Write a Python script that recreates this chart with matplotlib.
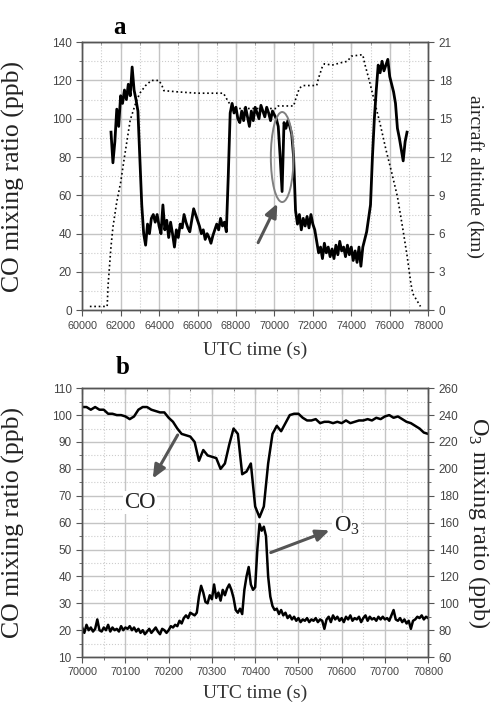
import numpy as np
import matplotlib
matplotlib.use('Agg')
import matplotlib.pyplot as plt
from matplotlib.patches import Ellipse
from matplotlib.ticker import MultipleLocator

plt.rcParams['font.family'] = ['Liberation Serif', 'DejaVu Serif']
plt.rcParams['mathtext.fontset'] = 'custom'
plt.rcParams['mathtext.rm'] = 'Liberation Serif'

# ---- panel a: CO (ppb) and aircraft altitude (km) over the whole flight
co_a_time = np.arange(61500, 76901, 100)
co_a = [93, 77, 88, 105, 96,
        112, 108, 115, 110, 118, 112, 127, 115, 110, 104,
        80, 55, 40, 34, 45, 40, 48, 50, 46, 50,
        44, 40, 55, 42, 47, 38, 46, 40, 33, 42,
        38, 45, 43, 50, 46, 43, 41, 47, 53, 50,
        47, 44, 40, 42, 37, 40, 38, 35, 39, 42,
        45, 42, 48, 44, 46, 41, 70, 103, 108, 103,
        106, 100, 98, 104, 99, 106, 101, 96, 104, 99,
        106, 103, 100, 107, 104, 101, 106, 103, 99, 104,
        102, 100, 96, 80, 62, 98, 95, 99, 96, 92,
        80, 52, 45, 50, 42, 48, 44, 49, 43, 50,
        45, 42, 36, 30, 33, 27, 35, 30, 33, 28,
        32, 27, 34, 29, 36, 31, 33, 28, 34, 29,
        33, 26, 31, 25, 33, 23, 33, 37, 41, 48,
        55, 80, 100, 115, 128, 124, 130, 125, 128, 131,
        122, 118, 114, 108, 95, 90, 84, 78, 88, 93]

alt_time = [60400, 61300, 61350, 61500, 61600, 61800, 62000, 62200, 62500, 62800,
            63000, 63300, 63600, 64000, 64150, 64250, 65000, 66000, 67350, 67500,
            67700, 68000, 70100, 70200, 71000, 71100, 71300, 71500, 72200, 72300,
            72500, 72600, 73000, 73500, 73800, 74000, 74500, 74600, 74700, 74900,
            75200, 75500, 75800, 76100, 76400, 76700, 76900, 77100, 77200, 77400,
            77600]
alt_km = [0.3, 0.3, 2.0, 5.0, 6.5, 8.5, 10.0, 12.0, 14.9, 16.3,
          17.0, 17.6, 18.0, 18.0, 17.6, 17.2, 17.1, 17.0, 17.0, 16.6,
          16.1, 15.8, 15.8, 16.0, 16.0, 16.5, 17.4, 17.6, 17.6, 18.2,
          19.1, 19.3, 19.2, 19.4, 19.5, 19.9, 20.0, 20.0, 19.3, 18.2,
          16.4, 14.6, 12.6, 10.8, 8.9, 6.2, 4.3, 2.1, 1.3, 0.8,
          0.3]

# ---- panel b: zoom on the dip, CO (ppb, left) and O3 (ppb, right)
co_b_time = np.arange(70000, 70801, 10)
co_b = [103, 103, 102, 103, 102, 102, 100.5, 100.5, 100, 100,
        99.5, 98.5, 99.5, 102, 103, 103, 102, 101.5, 101, 101,
        99, 97.5, 95, 93, 92.5, 92, 90, 83, 87, 85,
        84.5, 84, 80, 82, 89, 95, 93, 78, 79, 82,
        66, 62, 66, 82, 93, 96, 94, 97, 100, 100.5,
        100.5, 99, 98, 98, 98.5, 97, 97.5, 97.5, 97, 97.5,
        97, 98, 97, 97.5, 98, 98, 98.5, 98, 99, 98.5,
        99.5, 100, 99, 99.5, 98.5, 97.5, 97, 96, 95, 93.5,
        93]

o3_time = np.arange(70000, 70801, 5)
o3 = [82, 78, 84, 80, 82, 79, 81, 88, 80, 79,
      82, 80, 84, 79, 82, 80, 81, 79, 83, 80,
      82, 81, 83, 80, 82, 79, 81, 78, 80, 77,
      79, 81, 78, 80, 82, 79, 77, 81, 80, 78,
      80,
      83, 82, 84, 83, 87, 85, 89, 91, 89, 93,
      92, 91, 93, 105, 113, 108, 101, 100, 106, 103,
      114, 104, 108, 102, 110, 106, 111, 114, 110, 104,
      95, 93, 96, 92, 110, 120, 127, 114, 110, 112,
      140, 159, 154, 157, 150, 120, 105, 98, 95, 96,
      92, 95, 91, 93, 89, 91, 88, 90, 87, 89,
      86, 88, 87, 89, 86, 88, 87, 89, 86, 88,
      87, 81, 88, 90, 86, 91, 88, 90, 87, 89,
      86, 90, 88, 91, 87, 89, 88, 90, 86, 89,
      91, 87, 90, 88, 89, 87, 90, 88, 90, 88,
      89, 87, 91, 95, 88, 87, 89, 86, 88, 85,
      87, 81, 87, 88, 90, 89, 91, 88, 90, 89]

SPINE = '#555555'
TICKLAB = '#444444'
ARROW = '#555555'


def style(ax, ax2, xmaj, xmin, ymaj, ymin, y2maj, y2min):
    """ common look of both panels """
    ax.xaxis.set_major_locator(MultipleLocator(xmaj))
    ax.xaxis.set_minor_locator(MultipleLocator(xmin))
    ax.yaxis.set_major_locator(MultipleLocator(ymaj))
    ax.yaxis.set_minor_locator(MultipleLocator(ymin))
    ax2.yaxis.set_major_locator(MultipleLocator(y2maj))
    ax2.yaxis.set_minor_locator(MultipleLocator(y2min))
    ax.grid(which='major', color='#c4c4c4', lw=1.0, ls='-')
    ax.grid(which='minor', color='#cccccc', lw=0.8, ls=':')
    ax.set_axisbelow(True)
    for a in (ax, ax2):
        for s in a.spines.values():
            s.set_color(SPINE)
            s.set_linewidth(1.0)
        a.tick_params(which='both', direction='out', color=SPINE,
                      labelcolor=TICKLAB, labelfontfamily='Liberation Sans')
        a.tick_params(which='major', length=4)
        a.tick_params(which='minor', length=2)
    ax.tick_params(axis='x', labelsize=7.8)
    ax.tick_params(axis='y', labelsize=8.5)
    ax2.tick_params(axis='y', labelsize=8.5)
    top = ax.secondary_xaxis('top')
    top.xaxis.set_major_locator(MultipleLocator(xmaj))
    top.xaxis.set_minor_locator(MultipleLocator(xmin))
    top.tick_params(which='both', direction='in', labeltop=False, color=SPINE)
    top.tick_params(which='major', length=4)
    top.tick_params(which='minor', length=2)
    top.spines['top'].set_color(SPINE)


fig = plt.figure(figsize=(4.95, 7.02), dpi=100)

# panel a
ax = fig.add_axes([0.166, 0.558, 0.699, 0.382])
ax2 = ax.twinx()
ax2.plot(alt_time, alt_km, color='black', ls=':', lw=1.2)
ax.plot(co_a_time, co_a, color='black', lw=2.0, zorder=3)
ax.set_xlim(60000, 78000)
ax.set_ylim(0, 140)
ax2.set_ylim(0, 21)
style(ax, ax2, 2000, 1000, 20, 10, 3, 1.5)
ax.add_patch(Ellipse((70405, 80), 1180, 47, fill=False, ec='#808080', lw=1.4, zorder=4))
ax.annotate('', xy=(70215, 57), xytext=(69090, 34),
            arrowprops=dict(arrowstyle='-|>,head_length=0.8,head_width=0.35',
                            color=ARROW, lw=2.2), zorder=5)
ax.set_ylabel('CO mixing ratio (ppb)', fontsize=18.5, color='#222222')
ax.yaxis.set_label_coords(-0.165, 0.5)
ax2.set_ylabel('aircraft altitude (km)', fontsize=14, rotation=270, color='#222222')
ax2.yaxis.set_label_coords(1.16, 0.5)
fig.text(0.515, 1 - 350 / 702, 'UTC time (s)', ha='center', va='center',
         fontsize=14, color='#333333')
fig.text(120 / 495, 1 - 27 / 702, 'a', ha='center', va='center',
         fontsize=18, fontweight='bold')

# panel b
bx = fig.add_axes([0.166, 0.064, 0.699, 0.383])
bx2 = bx.twinx()
bx.plot(co_b_time, co_b, color='black', lw=1.8)
bx2.plot(o3_time, o3, color='black', lw=1.8)
bx.set_xlim(70000, 70800)
bx.set_ylim(10, 110)
bx2.set_ylim(60, 260)
style(bx, bx2, 100, 50, 10, 5, 20, 10)
bx.annotate('', xy=(70160, 75.5), xytext=(70224, 93.5),
            arrowprops=dict(arrowstyle='-|>,head_length=0.8,head_width=0.35',
                            color=ARROW, lw=2.2), zorder=5)
bx.annotate('', xy=(70578, 57.5), xytext=(70430, 48.5),
            arrowprops=dict(arrowstyle='-|>,head_length=0.8,head_width=0.35',
                            color=ARROW, lw=2.2), zorder=5)
bx.text(70134, 67.5, 'CO', ha='center', va='center', fontsize=16.5, color='#222222',
        bbox=dict(fc='white', ec='none', pad=1), zorder=6)
bx.text(70612, 59, r'O$_3$', ha='center', va='center', fontsize=16.5, color='#222222',
        bbox=dict(fc='white', ec='none', pad=1), zorder=6)
bx.set_ylabel('CO mixing ratio (ppb)', fontsize=18.5, color='#222222')
bx.yaxis.set_label_coords(-0.165, 0.5)
bx2.set_ylabel(r'O$_3$ mixing ratio (ppb)', fontsize=17.5, rotation=270, color='#222222')
bx2.yaxis.set_label_coords(1.185, 0.5)
fig.text(0.515, 1 - 693 / 702, 'UTC time (s)', ha='center', va='center',
         fontsize=14, color='#333333')
fig.text(123 / 495, 1 - 368 / 702, 'b', ha='center', va='center',
         fontsize=18, fontweight='bold')

fig.savefig('out.png', dpi=100)
